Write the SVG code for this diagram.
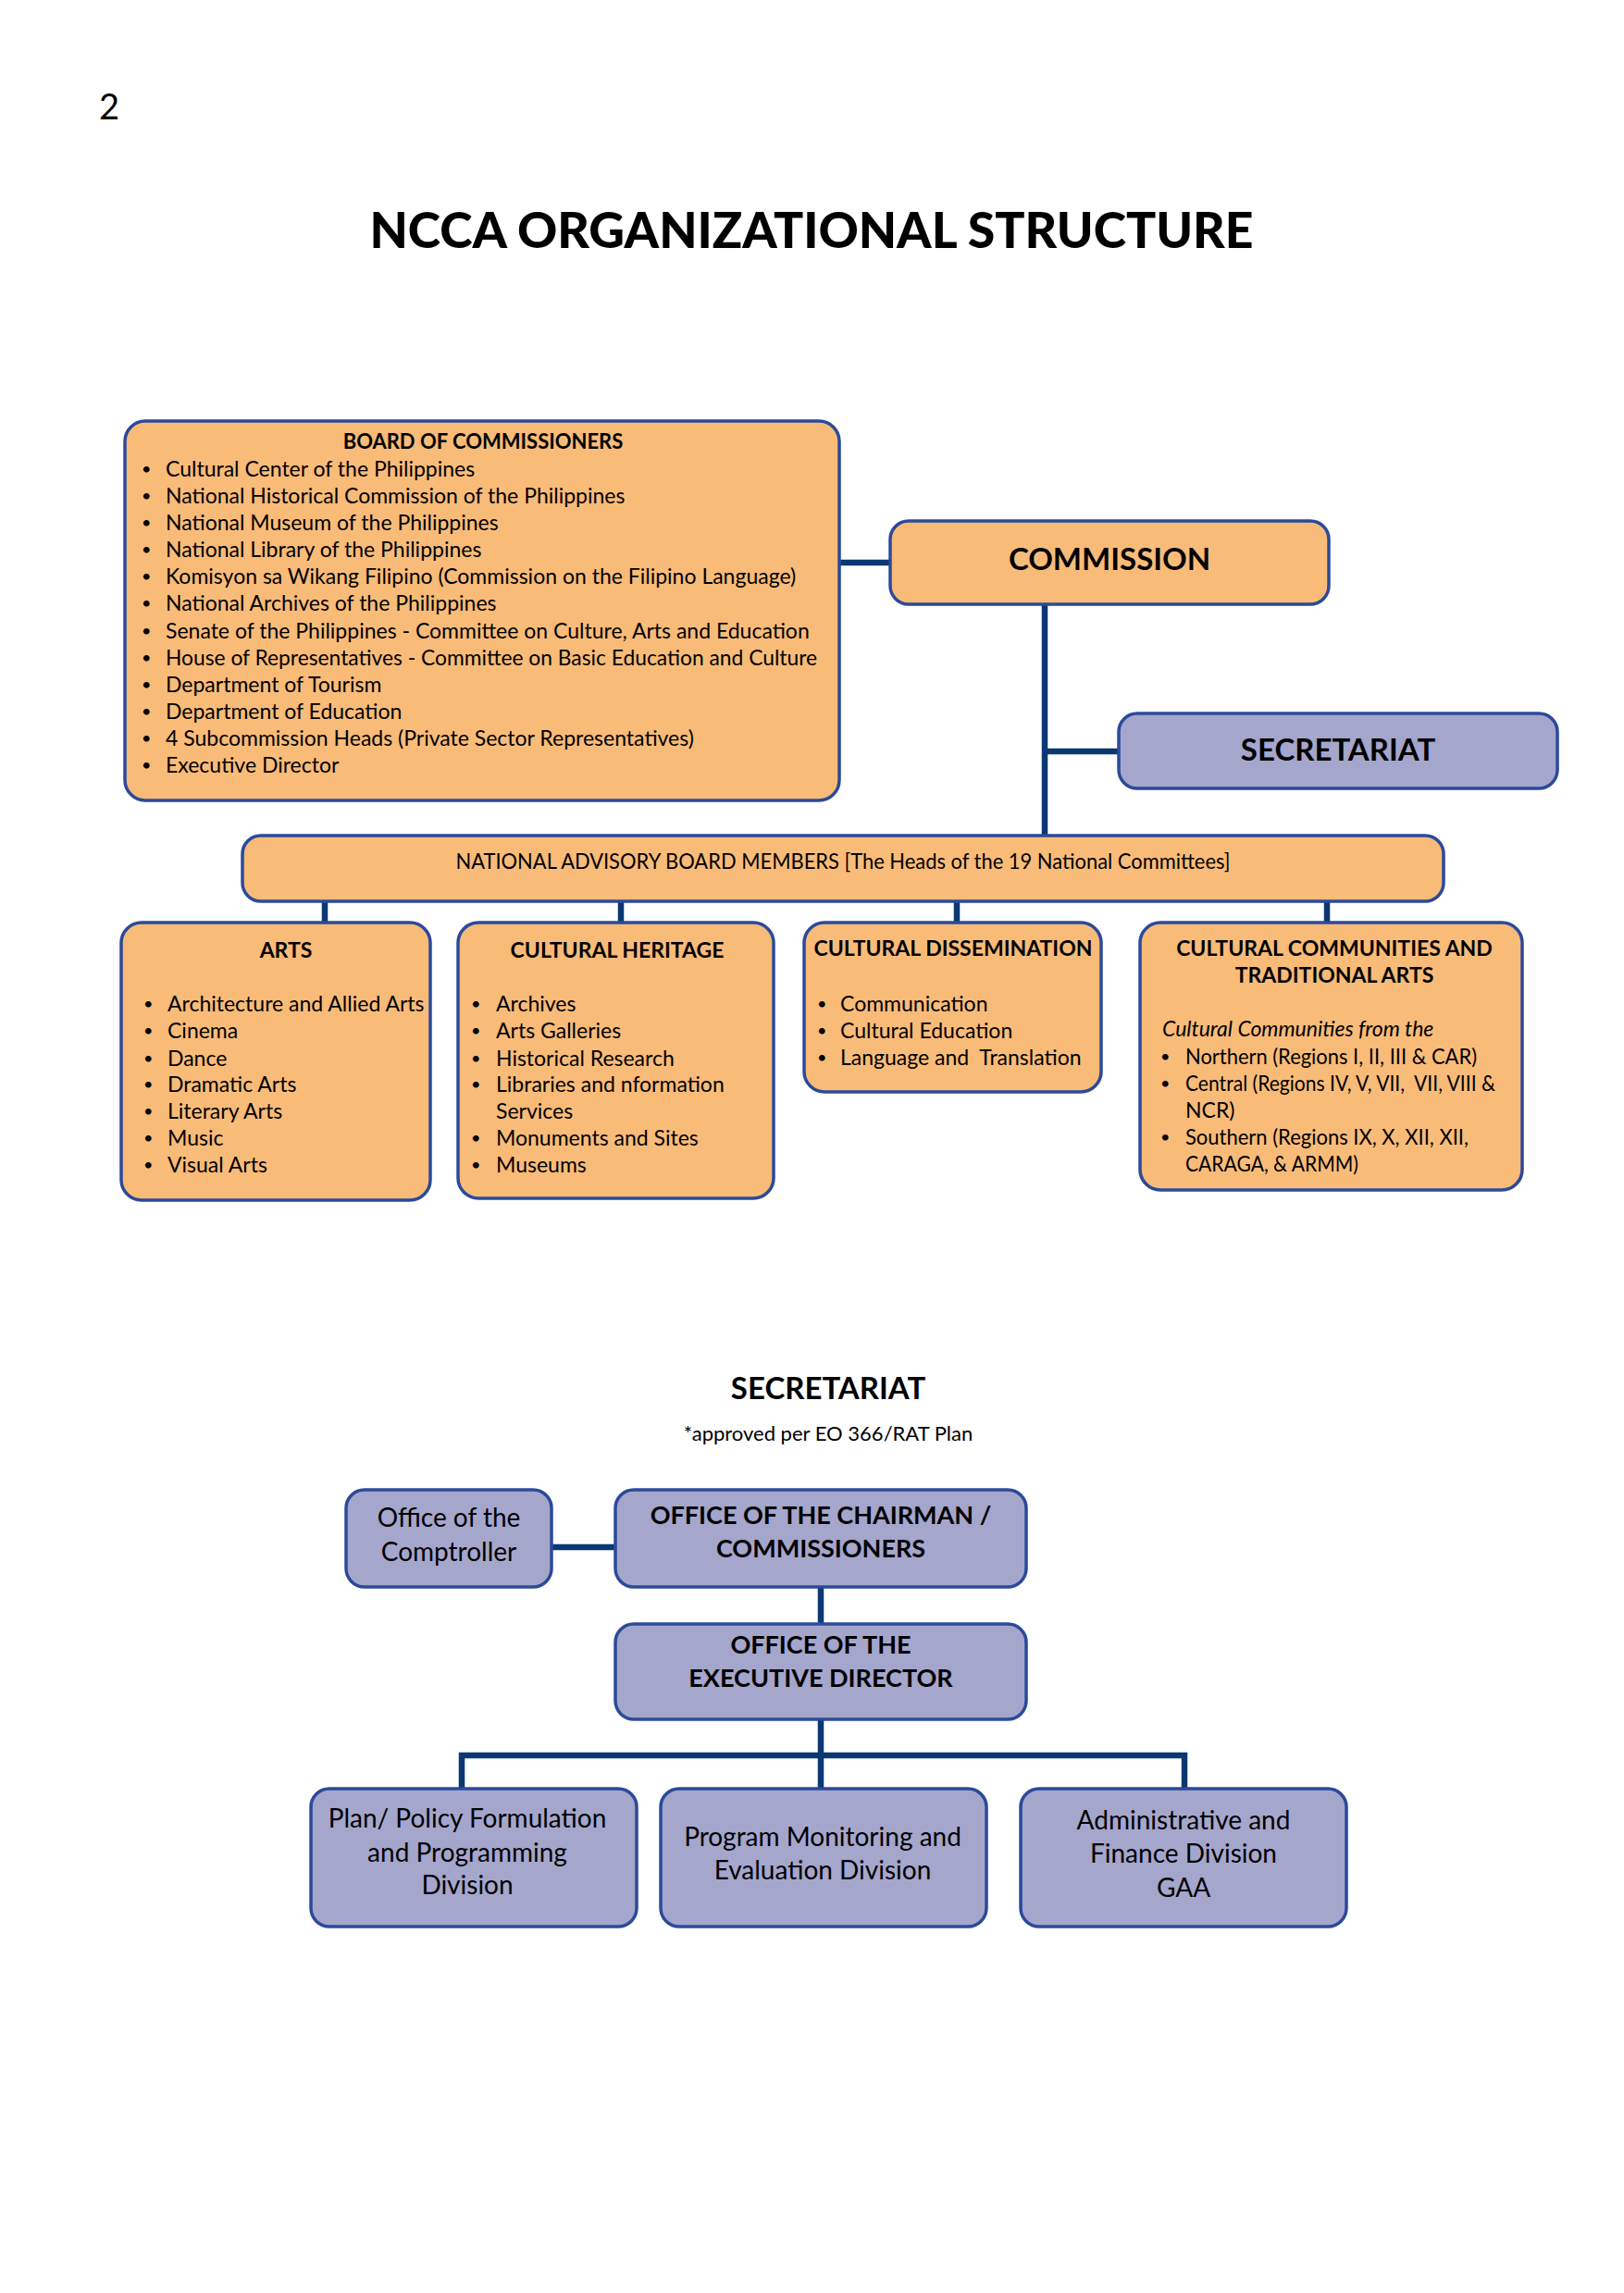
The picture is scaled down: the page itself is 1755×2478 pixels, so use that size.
<svg xmlns="http://www.w3.org/2000/svg" width="1755" height="2478" viewBox="0 0 1755 2478">
<style>
.o{fill:#F9BB78;stroke:#2B4A9A;stroke-width:3.5}
.p{fill:#A5A6CC;stroke:#2B4A9A;stroke-width:3.5}
.c{stroke:#0B3872;stroke-width:6.5;fill:none}
text{font-family:Lato,"Open Sans","Liberation Sans",sans-serif;fill:#000}
.b{font-weight:bold}
.m{text-anchor:middle}
.s{font-size:23px}
.bu{font-size:18px}
.pre{white-space:pre}
</style>
<rect width="1755" height="2478" fill="#fff"/>
<text x="107" y="129" style="font-size:38px">2</text>
<text x="877" y="268" class="m" style="font-size:54px;font-weight:900" textLength="955" lengthAdjust="spacingAndGlyphs">NCCA ORGANIZATIONAL STRUCTURE</text>

<g id="connectors">
<path class="c" d="M907,608H962"/>
<path class="c" d="M1129,653V904"/>
<path class="c" d="M1129,812H1209"/>
<path class="c" d="M351,973V997M671,973V997M1034,973V997M1434,973V997"/>
<path class="c" d="M596,1672H665"/>
<path class="c" d="M887,1715V1755"/>
<path class="c" d="M887,1858V1933M499,1933V1897H1280V1933"/>
</g>

<g id="board">
<rect class="o" x="135" y="455" width="772" height="410" rx="22"/>
<text x="522" y="485" class="b m" style="font-size:22px">BOARD OF COMMISSIONERS</text>
<g class="bu"><text x="153" y="513">•</text><text x="153" y="542">•</text><text x="153" y="571">•</text><text x="153" y="600">•</text><text x="153" y="629">•</text><text x="153" y="658">•</text><text x="153" y="688">•</text><text x="153" y="717">•</text><text x="153" y="746">•</text><text x="153" y="775">•</text><text x="153" y="804">•</text><text x="153" y="833">•</text></g>
<g class="s">
<text x="179" y="515">Cultural Center of the Philippines</text>
<text x="179" y="544">National Historical Commission of the Philippines</text>
<text x="179" y="573">National Museum of the Philippines</text>
<text x="179" y="602">National Library of the Philippines</text>
<text x="179" y="631">Komisyon sa Wikang Filipino (Commission on the Filipino Language)</text>
<text x="179" y="660">National Archives of the Philippines</text>
<text x="179" y="690">Senate of the Philippines - Committee on Culture, Arts and Education</text>
<text x="179" y="719" textLength="704" lengthAdjust="spacingAndGlyphs">House of Representatives - Committee on Basic Education and Culture</text>
<text x="179" y="748">Department of Tourism</text>
<text x="179" y="777">Department of Education</text>
<text x="179" y="806">4 Subcommission Heads (Private Sector Representatives)</text>
<text x="179" y="835">Executive Director</text>
</g>
</g>

<g id="commission">
<rect class="o" x="962" y="563" width="474" height="90" rx="20"/>
<text x="1199" y="616" class="b m" style="font-size:33px">COMMISSION</text>
</g>

<g id="secretariat">
<rect class="p" x="1209" y="771" width="474" height="81" rx="20"/>
<text x="1446" y="822" class="b m" style="font-size:33px">SECRETARIAT</text>
</g>

<g id="nab">
<rect class="o" x="262" y="903" width="1298" height="71" rx="20"/>
<text x="911" y="939" class="m s" textLength="837" lengthAdjust="spacingAndGlyphs">NATIONAL ADVISORY BOARD MEMBERS [The Heads of the 19 National Committees]</text>
</g>

<g id="arts">
<rect class="o" x="131" y="997" width="334" height="300" rx="22"/>
<text x="309" y="1035" class="b m s">ARTS</text>
<g class="bu"><text x="155" y="1091">•</text><text x="155" y="1120">•</text><text x="155" y="1150">•</text><text x="155" y="1178">•</text><text x="155" y="1207">•</text><text x="155" y="1236">•</text><text x="155" y="1265">•</text></g>
<g class="s">
<text x="181" y="1093">Architecture and Allied Arts</text>
<text x="181" y="1122">Cinema</text>
<text x="181" y="1152">Dance</text>
<text x="181" y="1180">Dramatic Arts</text>
<text x="181" y="1209">Literary Arts</text>
<text x="181" y="1238">Music</text>
<text x="181" y="1267">Visual Arts</text>
</g>
</g>

<g id="heritage">
<rect class="o" x="495" y="997" width="341" height="298" rx="22"/>
<text x="667" y="1035" class="b m s">CULTURAL HERITAGE</text>
<g class="bu"><text x="509" y="1091">•</text><text x="509" y="1120">•</text><text x="509" y="1150">•</text><text x="509" y="1178">•</text><text x="509" y="1236">•</text><text x="509" y="1265">•</text></g>
<g class="s">
<text x="536" y="1093">Archives</text>
<text x="536" y="1122">Arts Galleries</text>
<text x="536" y="1152">Historical Research</text>
<text x="536" y="1180">Libraries and nformation</text>
<text x="536" y="1209">Services</text>
<text x="536" y="1238">Monuments and Sites</text>
<text x="536" y="1267">Museums</text>
</g>
</g>

<g id="dissemination">
<rect class="o" x="869" y="997" width="321" height="183" rx="22"/>
<text x="1030" y="1033" class="b m s">CULTURAL DISSEMINATION</text>
<g class="bu"><text x="883" y="1091">•</text><text x="883" y="1120">•</text><text x="883" y="1149">•</text></g>
<g class="s">
<text x="908" y="1093">Communication</text>
<text x="908" y="1122">Cultural Education</text>
<text x="908" y="1151" class="pre">Language and  Translation</text>
</g>
</g>

<g id="communities">
<rect class="o" x="1232" y="997" width="413" height="289" rx="22"/>
<text x="1442" y="1033" class="b m s">CULTURAL COMMUNITIES AND</text>
<text x="1442" y="1062" class="b m s">TRADITIONAL ARTS</text>
<text x="1256" y="1120" class="s" style="font-style:italic">Cultural Communities from the</text>
<g class="bu"><text x="1254" y="1148">•</text><text x="1254" y="1177">•</text><text x="1254" y="1235">•</text></g>
<g class="s">
<text x="1281" y="1150" textLength="315" lengthAdjust="spacingAndGlyphs">Northern (Regions I, II, III &amp; CAR)</text>
<text x="1281" y="1179" class="pre" textLength="335" lengthAdjust="spacingAndGlyphs">Central (Regions IV, V, VII,  VII, VIII &amp;</text>
<text x="1281" y="1208">NCR)</text>
<text x="1281" y="1237" textLength="306" lengthAdjust="spacingAndGlyphs">Southern (Regions IX, X, XII, XII,</text>
<text x="1281" y="1266" textLength="187" lengthAdjust="spacingAndGlyphs">CARAGA, &amp; ARMM)</text>
</g>
</g>

<g id="sec-heading">
<text x="895" y="1512" class="b m" style="font-size:33px">SECRETARIAT</text>
<text x="895" y="1557" class="m" style="font-size:22px">*approved per EO 366/RAT Plan</text>
</g>

<g id="comptroller">
<rect class="p" x="374" y="1610" width="222" height="105" rx="20"/>
<text x="485" y="1650" class="m" style="font-size:28px">Office of the</text>
<text x="485" y="1687" class="m" style="font-size:28px">Comptroller</text>
</g>

<g id="chairman">
<rect class="p" x="665" y="1610" width="444" height="105" rx="20"/>
<text x="887" y="1647" class="b m" style="font-size:27px">OFFICE OF THE CHAIRMAN /</text>
<text x="887" y="1683" class="b m" style="font-size:27px">COMMISSIONERS</text>
</g>

<g id="executive">
<rect class="p" x="665" y="1755" width="444" height="103" rx="20"/>
<text x="887" y="1787" class="b m" style="font-size:27px">OFFICE OF THE</text>
<text x="887" y="1823" class="b m" style="font-size:27px">EXECUTIVE DIRECTOR</text>
</g>

<g id="planning">
<rect class="p" x="336" y="1933" width="352" height="149" rx="20"/>
<text x="505" y="1975" class="m" style="font-size:28px">Plan/ Policy Formulation</text>
<text x="505" y="2012" class="m" style="font-size:28px">and Programming</text>
<text x="505" y="2047" class="m" style="font-size:28px">Division</text>
</g>

<g id="monitoring">
<rect class="p" x="714" y="1933" width="352" height="149" rx="20"/>
<text x="889" y="1995" class="m" style="font-size:28px">Program Monitoring and</text>
<text x="889" y="2031" class="m" style="font-size:28px">Evaluation Division</text>
</g>

<g id="admin">
<rect class="p" x="1103" y="1933" width="352" height="149" rx="20"/>
<text x="1279" y="1977" class="m" style="font-size:28px">Administrative and</text>
<text x="1279" y="2013" class="m" style="font-size:28px">Finance Division</text>
<text x="1279" y="2050" class="m" style="font-size:28px">GAA</text>
</g>
</svg>
